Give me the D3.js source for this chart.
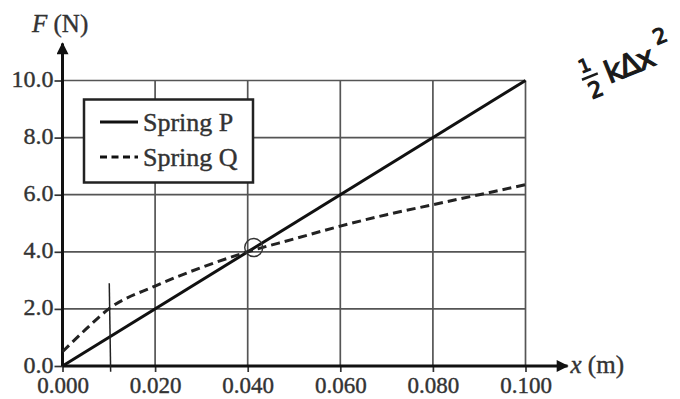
<!DOCTYPE html>
<html>
<head>
<meta charset="utf-8">
<script src="https://cdn.jsdelivr.net/npm/d3@7"></script>
<style>
  body { margin: 0; background: #fff; }
  svg { display: block; font-family: "Liberation Serif", "Times New Roman", serif; }
</style>
</head>
<body>
<div id="chart"></div>
<script>
// data
const xTicks = [0.000, 0.020, 0.040, 0.060, 0.080, 0.100];
const yTicks = [0.0, 2.0, 4.0, 6.0, 8.0, 10.0];
const springPX = [0.000, 0.100];
const springPF = [0.0, 10.0];
const springQX = [0.000, 0.005, 0.010, 0.020, 0.030, 0.040, 0.050, 0.060, 0.070, 0.080, 0.090, 0.100];
const springQF = [0.5, 1.28, 2.0, 2.8, 3.45, 4.0, 4.45, 4.9, 5.3, 5.65, 6.0, 6.35];
const seriesNames = ["Spring P", "Spring Q"];

const width = 680, height = 399;
const x = d3.scaleLinear().domain([0, 0.1]).range([62.5, 525.5]);
const y = d3.scaleLinear().domain([0, 10]).range([366, 80.5]);

const svg = d3.select("#chart").append("svg")
  .attr("width", width)
  .attr("height", height);

// grid
svg.append("g")
  .selectAll("line.vg")
  .data(xTicks.slice(1))
  .enter().append("line")
  .attr("x1", (d) => x(d)).attr("x2", (d) => x(d))
  .attr("y1", y(0)).attr("y2", y(10))
  .attr("stroke", "#555").attr("stroke-width", 1.7);

svg.append("g")
  .selectAll("line.hg")
  .data(yTicks.slice(1))
  .enter().append("line")
  .attr("x1", x(0)).attr("x2", x(0.1))
  .attr("y1", (d) => y(d)).attr("y2", (d) => y(d))
  .attr("stroke", "#555").attr("stroke-width", 1.7);

// axes
const xAxis = d3.axisBottom(x).tickValues(xTicks).tickFormat(d3.format(".3f")).tickSize(6).tickPadding(4);
const yAxis = d3.axisLeft(y).tickValues(yTicks).tickFormat(d3.format(".1f")).tickSize(8).tickPadding(1);

const gx = svg.append("g").attr("transform", `translate(0,${y(0)})`).call(xAxis);
const gy = svg.append("g").attr("transform", `translate(${x(0)},0)`).call(yAxis);

[gx, gy].forEach((g) => {
  g.select(".domain").remove();
  g.selectAll(".tick line").attr("stroke", "#333").attr("stroke-width", 1.7);
  g.selectAll(".tick text")
    .attr("fill", "#333")
    .attr("stroke", "#333")
    .attr("stroke-width", 0.4)
    .style("font-size", "24px")
    .style("font-family", "'Liberation Serif', serif");
});
gx.selectAll(".tick text").style("font-size", "23px").attr("dy", "0.74em");
gy.selectAll(".tick text").attr("dy", "0.25em");

// axis lines with arrows
svg.append("defs").append("marker")
  .attr("id", "arrow")
  .attr("viewBox", "0 0 10 10")
  .attr("refX", 9).attr("refY", 5)
  .attr("markerWidth", 5).attr("markerHeight", 4)
  .attr("markerUnits", "strokeWidth")
  .attr("orient", "auto")
  .append("path").attr("d", "M0,0 L10,5 L0,10 Z").attr("fill", "#111");

svg.append("line")
  .attr("x1", x(0)).attr("x2", x(0.1) + 42)
  .attr("y1", y(0)).attr("y2", y(0))
  .attr("stroke", "#111").attr("stroke-width", 3)
  .attr("marker-end", "url(#arrow)");

svg.append("line")
  .attr("x1", x(0)).attr("x2", x(0))
  .attr("y1", y(0)).attr("y2", y(10) - 37)
  .attr("stroke", "#111").attr("stroke-width", 3)
  .attr("marker-end", "url(#arrow)");

// axis titles
const fLabel = svg.append("text")
  .attr("x", 32).attr("y", 32)
  .attr("fill", "#333").attr("stroke", "#333").attr("stroke-width", 0.4)
  .style("font-size", "25px");
fLabel.append("tspan").style("font-style", "italic").text("F");
fLabel.append("tspan").text(" (N)");

const xLabel = svg.append("text")
  .attr("x", x(0.1) + 45).attr("y", y(0) + 7)
  .attr("fill", "#333").attr("stroke", "#333").attr("stroke-width", 0.4)
  .style("font-size", "25px");
xLabel.append("tspan").style("font-style", "italic").text("x");
xLabel.append("tspan").text(" (m)");

// series
const line = d3.line()
  .x((d) => x(d[0]))
  .y((d) => y(d[1]));

svg.append("path")
  .datum(springPX.map((d, i) => [d, springPF[i]]))
  .attr("d", line)
  .attr("fill", "none")
  .attr("stroke", "#111")
  .attr("stroke-width", 3);

svg.append("path")
  .datum(springQX.map((d, i) => [d, springQF[i]]))
  .attr("d", line.curve(d3.curveMonotoneX))
  .attr("fill", "none")
  .attr("stroke", "#222")
  .attr("stroke-width", 3)
  .attr("stroke-dasharray", "9,5");

// legend
const legend = svg.append("g");
legend.append("rect")
  .attr("x", 84).attr("y", 99.5)
  .attr("width", 169).attr("height", 83)
  .attr("fill", "#fff")
  .attr("stroke", "#222").attr("stroke-width", 2.5);

legend.selectAll("line.key")
  .data(seriesNames)
  .enter().append("line")
  .attr("x1", 100).attr("x2", 138)
  .attr("y1", (d, i) => 122 + i * 35).attr("y2", (d, i) => 122 + i * 35)
  .attr("stroke", "#111").attr("stroke-width", 3)
  .attr("stroke-dasharray", (d, i) => i === 0 ? null : "7,4.5");

legend.selectAll("text.key")
  .data(seriesNames)
  .enter().append("text")
  .attr("x", 143)
  .attr("y", (d, i) => 131 + i * 35)
  .attr("fill", "#333").attr("stroke", "#333").attr("stroke-width", 0.4)
  .style("font-size", "26px")
  .text((d) => d);

// handwritten annotations
svg.append("line")
  .attr("x1", x(0.0101)).attr("x2", x(0.0104))
  .attr("y1", y(2.9)).attr("y2", y(-0.2))
  .attr("stroke", "#222").attr("stroke-width", 1.5);

svg.append("circle")
  .attr("cx", x(0.0413)).attr("cy", y(4.15))
  .attr("r", 9)
  .attr("fill", "none")
  .attr("stroke", "#333").attr("stroke-width", 1.4);

const note = svg.append("g")
  .attr("transform", "translate(608,80) rotate(-22)")
  .style("font-family", "'DejaVu Sans', sans-serif")
  .attr("fill", "#1a1a1a")
  .attr("stroke", "#1a1a1a")
  .attr("stroke-width", 1.2);
note.append("text").attr("x", -22).attr("y", -16).style("font-size", "18px").text("1");
note.append("line").attr("x1", -24).attr("x2", -7).attr("y1", -10).attr("y2", -10).attr("stroke-width", 2.5);
note.append("text").attr("x", -22).attr("y", 12).style("font-size", "22px").text("2");
note.append("text").attr("x", 0).attr("y", 4).style("font-size", "30px").style("letter-spacing", "-2px").text("kΔx");
note.append("text").attr("x", 58).attr("y", -14).style("font-size", "21px").text("2");
</script>
</body>
</html>
